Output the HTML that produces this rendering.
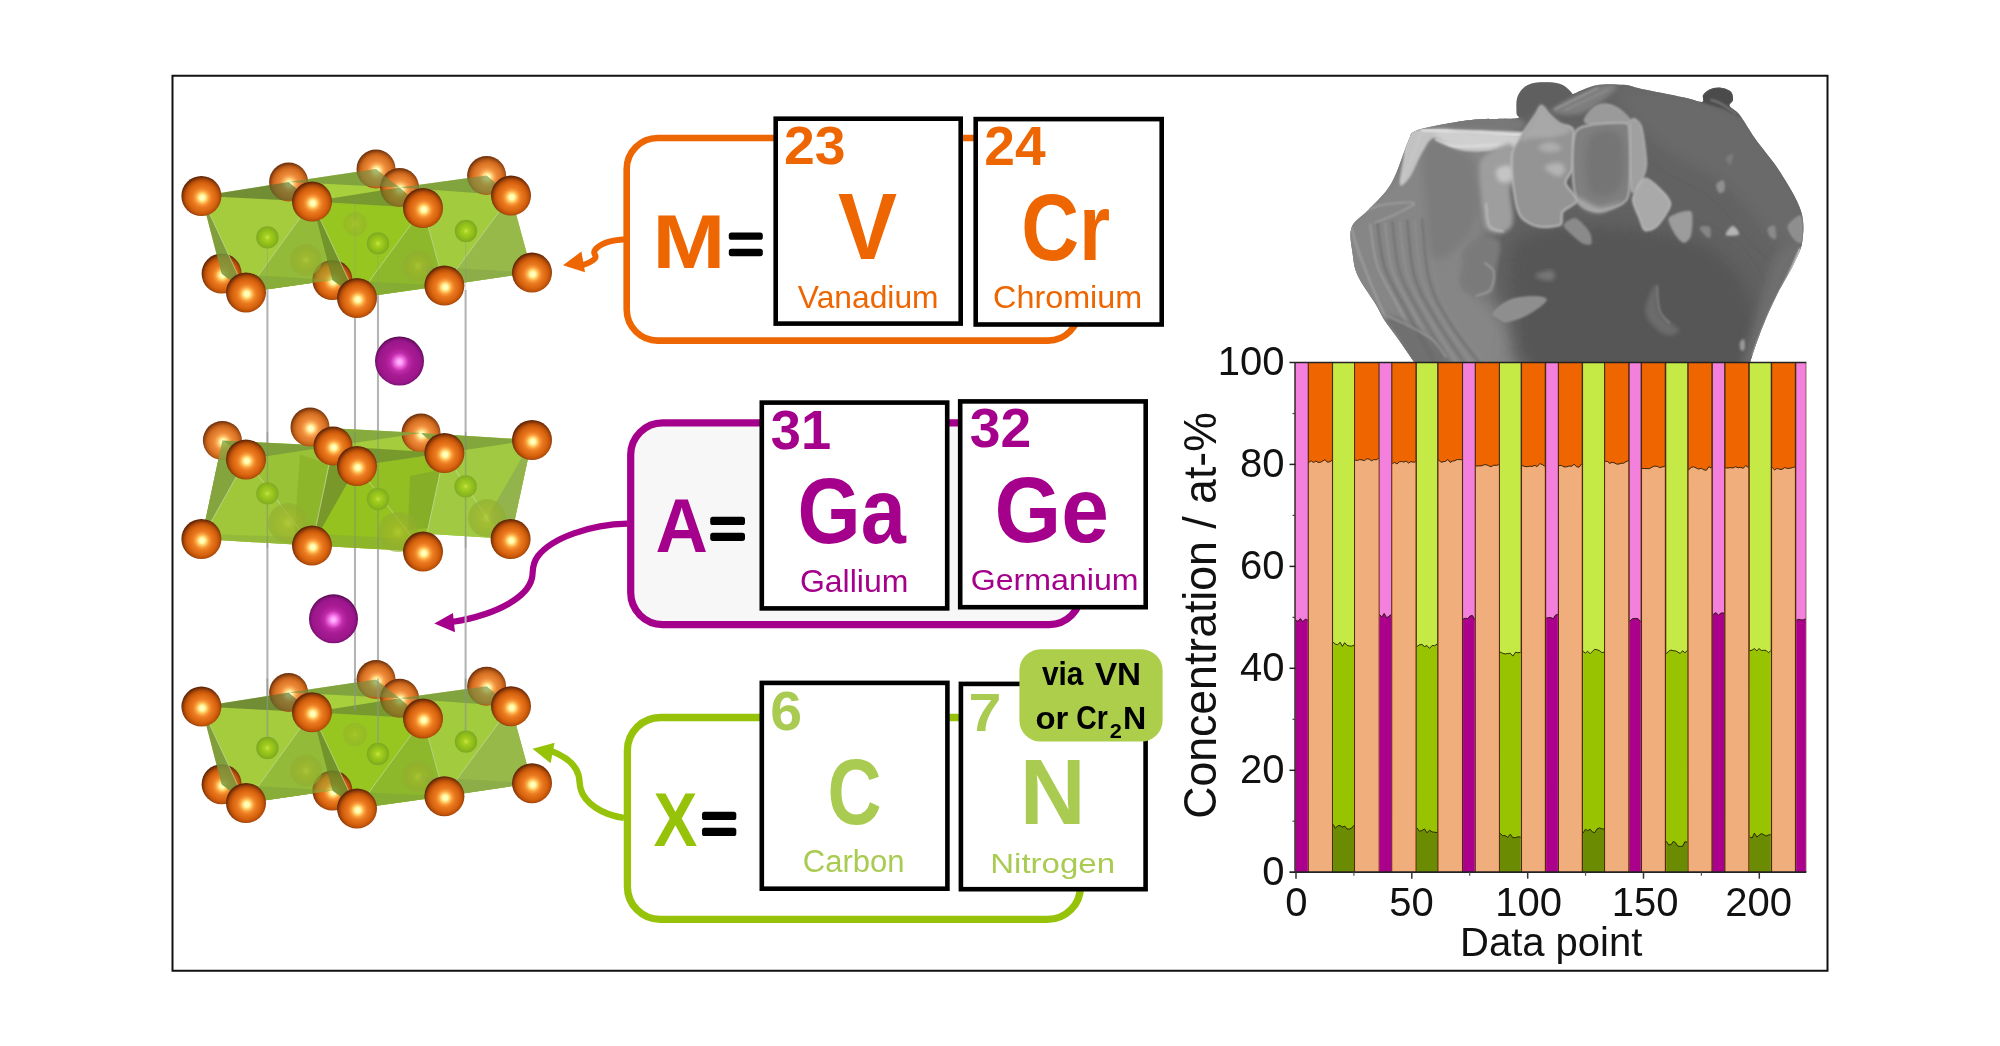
<!DOCTYPE html>
<html><head><meta charset="utf-8"><title>TOC graphic</title>
<style>
html,body{margin:0;padding:0;background:#fff;}
body{width:2000px;height:1046px;overflow:hidden;font-family:"Liberation Sans",sans-serif;}
svg{display:block;position:absolute;left:0;top:0;filter:blur(0.55px);}
svg text{font-family:"Liberation Sans",sans-serif;}
</style></head><body>
<svg width="2000" height="1046" viewBox="0 0 2000 1046">
<defs>
<radialGradient id="gO" cx="52%" cy="54%" r="52%">
<stop offset="0" stop-color="#FFFFC8"/><stop offset="0.12" stop-color="#FFFCB0"/><stop offset="0.22" stop-color="#FFD068"/><stop offset="0.33" stop-color="#F99B3A"/>
<stop offset="0.46" stop-color="#EA7A20"/><stop offset="0.68" stop-color="#D9640F"/><stop offset="0.82" stop-color="#BE5209"/><stop offset="0.93" stop-color="#8C3A08"/><stop offset="1" stop-color="#642705"/>
</radialGradient>
<radialGradient id="gOb" cx="52%" cy="54%" r="52%">
<stop offset="0" stop-color="#FFFFD2"/><stop offset="0.12" stop-color="#FFFCB8"/><stop offset="0.22" stop-color="#FFD67C"/><stop offset="0.33" stop-color="#F9A854"/>
<stop offset="0.46" stop-color="#EC8A3A"/><stop offset="0.68" stop-color="#DC7526"/><stop offset="0.82" stop-color="#C4621A"/><stop offset="0.93" stop-color="#984812"/><stop offset="1" stop-color="#74350E"/>
</radialGradient>
<radialGradient id="gP" cx="50%" cy="52%" r="51%">
<stop offset="0" stop-color="#FFC0FF"/><stop offset="0.10" stop-color="#FFA0F8"/><stop offset="0.22" stop-color="#EA62DA"/><stop offset="0.36" stop-color="#C02CAA"/>
<stop offset="0.55" stop-color="#A91B93"/><stop offset="0.84" stop-color="#9B168B"/><stop offset="0.94" stop-color="#7C1172"/><stop offset="1" stop-color="#5C0852"/>
</radialGradient>
<radialGradient id="gG" cx="50%" cy="50%" r="50%">
<stop offset="0" stop-color="#C9E64A"/><stop offset="0.25" stop-color="#A6D020"/><stop offset="0.7" stop-color="#8DBB18"/><stop offset="1" stop-color="#7DA824"/>
</radialGradient>
<radialGradient id="gOl" cx="50%" cy="50%" r="50%">
<stop offset="0" stop-color="#B9CE3A"/><stop offset="0.3" stop-color="#A3B62A"/><stop offset="0.8" stop-color="#93AD2C"/><stop offset="1" stop-color="#8FAF34"/>
</radialGradient>
<filter id="b1" x="-20%" y="-20%" width="140%" height="140%"><feGaussianBlur stdDeviation="1"/></filter>
<filter id="b2" x="-20%" y="-20%" width="140%" height="140%"><feGaussianBlur stdDeviation="2.2"/></filter>
<filter id="b4" x="-30%" y="-30%" width="160%" height="160%"><feGaussianBlur stdDeviation="4.5"/></filter>
<filter id="b8" x="-30%" y="-30%" width="160%" height="160%"><feGaussianBlur stdDeviation="9"/></filter>
<filter id="soft" x="-5%" y="-5%" width="110%" height="110%"><feGaussianBlur stdDeviation="0.6"/></filter>
</defs>
<rect x="0" y="0" width="2000" height="1046" fill="#ffffff"/>

<g id="sem">
<clipPath id="rockclip"><path d="M1516.5 113.0 C1516.7 109.3 1515.5 100.7 1517.9 95.8 C1520.3 90.9 1523.9 85.8 1530.8 83.8 C1537.7 81.8 1552.3 81.9 1559.5 83.8 C1566.7 85.7 1571.7 93.4 1573.8 95.2 C1575.9 97.1 1568.4 96.3 1572.1 94.6 C1575.8 92.9 1587.6 86.8 1596.2 85.2 C1604.8 83.5 1616.2 84.2 1623.8 84.8 C1631.3 85.4 1631.7 86.8 1641.6 88.9 C1651.5 90.9 1673.1 95.0 1683.1 97.2 C1693.2 99.3 1698.6 102.2 1702.0 101.9 C1705.3 101.5 1701.8 97.0 1703.1 95.0 C1704.3 92.9 1706.7 90.7 1709.4 89.4 C1712.2 88.2 1716.1 87.1 1719.7 87.5 C1723.3 87.8 1728.6 89.5 1730.8 91.6 C1733.0 93.7 1733.2 97.5 1733.0 99.9 C1732.8 102.3 1728.5 103.5 1729.7 106.0 C1730.8 108.6 1735.7 109.7 1739.9 115.2 C1744.2 120.6 1748.5 129.3 1755.2 138.7 C1761.9 148.2 1772.5 160.0 1780.1 172.0 C1787.7 184.0 1797.2 199.2 1800.9 210.8 C1804.6 222.3 1803.4 232.5 1802.3 241.3 C1801.1 250.0 1798.1 254.6 1794.0 263.4 C1789.8 272.2 1782.4 283.7 1777.3 293.9 C1772.3 304.1 1767.6 314.2 1763.5 324.4 C1759.3 334.5 1755.2 346.5 1752.4 354.9 C1749.6 363.2 1748.5 367.8 1746.9 374.3 C1745.2 380.7 1758.8 389.4 1742.7 393.6 C1726.6 397.9 1690.4 398.9 1650.0 400.0 C1609.6 401.1 1535.2 400.4 1500.0 400.0 C1464.8 399.6 1451.6 401.2 1439.1 397.6 C1426.5 393.9 1429.0 384.0 1424.9 378.1 C1420.8 372.2 1418.7 368.7 1414.3 362.2 C1409.9 355.7 1403.4 346.3 1398.4 339.2 C1393.4 332.1 1388.1 325.6 1384.2 319.7 C1380.4 313.9 1379.8 311.2 1375.4 303.8 C1371.0 296.5 1361.5 283.8 1357.7 275.5 C1353.9 267.3 1353.8 262.3 1352.7 254.3 C1351.7 246.3 1348.9 235.1 1351.5 227.8 C1354.1 220.4 1361.7 217.4 1368.3 210.1 C1374.9 202.7 1384.7 194.9 1391.3 183.5 C1397.9 172.1 1403.9 150.5 1408.0 141.7 C1412.2 132.9 1409.0 133.9 1416.1 130.8 C1423.1 127.7 1440.0 125.0 1450.5 123.1 C1461.0 121.2 1468.2 120.2 1479.2 119.3 C1490.2 118.5 1510.2 119.2 1516.5 118.2 C1522.7 117.1 1516.2 116.8 1516.5 113.0Z"/></clipPath>
<clipPath id="semtop"><rect x="1300" y="70" width="520" height="292.6"/></clipPath>
<g clip-path="url(#semtop)"><g filter="url(#soft)"><path d="M1516.5 113.0 C1516.7 109.3 1515.5 100.7 1517.9 95.8 C1520.3 90.9 1523.9 85.8 1530.8 83.8 C1537.7 81.8 1552.3 81.9 1559.5 83.8 C1566.7 85.7 1571.7 93.4 1573.8 95.2 C1575.9 97.1 1568.4 96.3 1572.1 94.6 C1575.8 92.9 1587.6 86.8 1596.2 85.2 C1604.8 83.5 1616.2 84.2 1623.8 84.8 C1631.3 85.4 1631.7 86.8 1641.6 88.9 C1651.5 90.9 1673.1 95.0 1683.1 97.2 C1693.2 99.3 1698.6 102.2 1702.0 101.9 C1705.3 101.5 1701.8 97.0 1703.1 95.0 C1704.3 92.9 1706.7 90.7 1709.4 89.4 C1712.2 88.2 1716.1 87.1 1719.7 87.5 C1723.3 87.8 1728.6 89.5 1730.8 91.6 C1733.0 93.7 1733.2 97.5 1733.0 99.9 C1732.8 102.3 1728.5 103.5 1729.7 106.0 C1730.8 108.6 1735.7 109.7 1739.9 115.2 C1744.2 120.6 1748.5 129.3 1755.2 138.7 C1761.9 148.2 1772.5 160.0 1780.1 172.0 C1787.7 184.0 1797.2 199.2 1800.9 210.8 C1804.6 222.3 1803.4 232.5 1802.3 241.3 C1801.1 250.0 1798.1 254.6 1794.0 263.4 C1789.8 272.2 1782.4 283.7 1777.3 293.9 C1772.3 304.1 1767.6 314.2 1763.5 324.4 C1759.3 334.5 1755.2 346.5 1752.4 354.9 C1749.6 363.2 1748.5 367.8 1746.9 374.3 C1745.2 380.7 1758.8 389.4 1742.7 393.6 C1726.6 397.9 1690.4 398.9 1650.0 400.0 C1609.6 401.1 1535.2 400.4 1500.0 400.0 C1464.8 399.6 1451.6 401.2 1439.1 397.6 C1426.5 393.9 1429.0 384.0 1424.9 378.1 C1420.8 372.2 1418.7 368.7 1414.3 362.2 C1409.9 355.7 1403.4 346.3 1398.4 339.2 C1393.4 332.1 1388.1 325.6 1384.2 319.7 C1380.4 313.9 1379.8 311.2 1375.4 303.8 C1371.0 296.5 1361.5 283.8 1357.7 275.5 C1353.9 267.3 1353.8 262.3 1352.7 254.3 C1351.7 246.3 1348.9 235.1 1351.5 227.8 C1354.1 220.4 1361.7 217.4 1368.3 210.1 C1374.9 202.7 1384.7 194.9 1391.3 183.5 C1397.9 172.1 1403.9 150.5 1408.0 141.7 C1412.2 132.9 1409.0 133.9 1416.1 130.8 C1423.1 127.7 1440.0 125.0 1450.5 123.1 C1461.0 121.2 1468.2 120.2 1479.2 119.3 C1490.2 118.5 1510.2 119.2 1516.5 118.2 C1522.7 117.1 1516.2 116.8 1516.5 113.0Z" fill="#626262"/>
<g clip-path="url(#rockclip)">
<path d="M1335.7 230.6 C1346.3 208.6 1389.8 174.2 1404.6 156.1 C1419.4 137.9 1408.4 128.3 1424.7 121.6 C1440.9 114.9 1487.3 110.2 1502.1 115.9 C1516.9 121.6 1516.5 143.1 1513.6 156.1 C1510.7 169.0 1488.7 180.9 1484.9 193.4 C1481.1 205.8 1493.0 217.7 1490.6 230.6 C1488.3 243.6 1468.6 256.9 1470.6 270.8 C1472.5 284.7 1492.1 296.6 1502.1 313.8 C1512.2 331.0 1547.5 364.0 1530.8 374.1 C1514.1 384.1 1433.3 388.4 1401.7 374.1 C1370.2 359.7 1352.5 311.9 1341.5 288.0 C1330.5 264.1 1325.2 252.6 1335.7 230.6Z" fill="#868686" filter="url(#b8)"/>
<path d="M1513.6 242.1 C1526.0 227.3 1556.6 224.9 1588.2 224.9 C1619.7 224.9 1675.7 229.7 1702.9 242.1 C1730.2 254.5 1745.0 277.5 1751.7 299.5 C1758.4 321.5 1778.9 361.6 1743.1 374.1 C1707.2 386.5 1574.8 384.1 1536.5 374.1 C1498.3 364.0 1517.4 335.8 1513.6 313.8 C1509.8 291.8 1501.2 256.9 1513.6 242.1Z" fill="#565656" filter="url(#b8)"/>
<path d="M1616.9 87.2 C1629.8 81.5 1705.8 90.6 1737.3 110.2 C1768.9 129.8 1794.7 181.9 1806.2 204.8 C1817.7 227.8 1811.0 241.6 1806.2 247.9 C1801.4 254.1 1790.9 252.6 1777.5 242.1 C1764.1 231.6 1745.5 201.0 1725.9 184.7 C1706.3 168.5 1678.1 160.8 1659.9 144.6 C1641.7 128.3 1604.0 92.9 1616.9 87.2Z" fill="#6b6b6b" filter="url(#b8)"/>
<path d="M1777.5 253.6 C1785.2 243.1 1802.4 236.4 1806.2 242.1 C1810.0 247.9 1808.1 267.0 1800.5 288.0 C1792.8 309.1 1769.9 354.9 1760.3 368.3 C1750.7 381.7 1743.1 378.9 1743.1 368.3 C1743.1 357.8 1754.6 324.4 1760.3 305.2 C1766.0 286.1 1769.9 264.1 1777.5 253.6Z" fill="#6e6e6e" filter="url(#b4)"/>
<path d="M1518.8 117.0 C1516.2 114.6 1518.5 100.7 1520.5 95.5 C1522.5 90.3 1526.5 88.2 1530.8 86.0 C1535.1 83.9 1540.8 82.4 1546.3 82.6 C1551.7 82.7 1559.1 84.8 1563.5 86.9 C1568.0 89.0 1575.0 91.6 1573.0 95.1 C1571.0 98.7 1557.6 105.9 1551.5 108.4 C1545.3 110.9 1541.4 108.7 1536.0 110.1 C1530.5 111.6 1521.3 119.4 1518.8 117.0Z" fill="#5e5e5e" filter="url(#b2)"/>
<path d="M1551.5 110.1 C1553.8 105.8 1585.3 90.3 1596.2 86.5 C1607.1 82.8 1619.2 83.4 1616.9 87.7 C1614.6 92.1 1593.3 109.0 1582.4 112.7 C1571.5 116.4 1549.2 114.5 1551.5 110.1Z" fill="#7e7e7e" filter="url(#b2)"/>
<path d="M1554.9 109.3 C1562.1 105.7 1590.8 91.3 1597.9 87.7" fill="none" stroke="#a8a8a8" stroke-width="1.2" stroke-linecap="round" opacity="1" filter="url(#b1)"/>
<path d="M1565.2 110.1 C1572.4 106.7 1601.1 92.9 1608.3 89.5" fill="none" stroke="#9a9a9a" stroke-width="1.0" stroke-linecap="round" opacity="1" filter="url(#b1)"/>
<path d="M1702.0 101.9 C1698.8 99.7 1701.8 97.0 1703.1 95.0 C1704.3 92.9 1706.7 90.7 1709.4 89.4 C1712.2 88.2 1716.1 87.1 1719.7 87.5 C1723.3 87.8 1728.6 89.5 1730.8 91.6 C1733.0 93.7 1733.2 97.5 1733.0 99.9 C1732.8 102.3 1728.5 103.3 1729.7 106.0 C1730.8 108.8 1741.2 116.2 1739.9 116.6 C1738.6 116.9 1728.2 110.7 1721.9 108.3 C1715.6 105.8 1705.1 104.1 1702.0 101.9Z" fill="#4c4c4c" filter="url(#b1)"/>
<path d="M1710.8 99.9 C1712.7 100.6 1717.8 101.8 1721.9 104.1 C1726.1 106.4 1733.5 112.2 1735.8 113.8" fill="none" stroke="#8a8a8a" stroke-width="1.5" stroke-linecap="round" opacity="1" filter="url(#b1)"/>
<path d="M1370.1 224.2 C1371.3 231.0 1372.7 251.6 1377.1 264.9 C1381.6 278.2 1388.1 287.2 1396.6 303.8 C1405.2 320.5 1423.1 354.7 1428.4 364.9" fill="none" stroke="#a6a6a6" stroke-width="1.6" stroke-linecap="round" opacity="0.85" filter="url(#b1)"/>
<path d="M1377.5 223.5 C1378.7 230.8 1380.2 253.2 1384.6 267.0 C1389.0 280.8 1395.5 290.0 1404.0 306.3 C1412.6 322.6 1430.6 355.1 1435.9 364.9" fill="none" stroke="#6a6a6a" stroke-width="2" stroke-linecap="round" opacity="0.85" filter="url(#b1)"/>
<path d="M1384.9 222.8 C1386.1 230.5 1387.6 254.8 1392.0 269.2 C1396.4 283.5 1402.9 292.8 1411.5 308.8 C1420.0 324.7 1438.0 355.5 1443.3 364.9" fill="none" stroke="#9e9e9e" stroke-width="1.4" stroke-linecap="round" opacity="0.85" filter="url(#b1)"/>
<path d="M1392.4 222.1 C1393.5 230.3 1395.0 256.4 1399.4 271.3 C1403.9 286.1 1410.3 295.7 1418.9 311.3 C1427.4 326.9 1445.4 355.9 1450.7 364.9" fill="none" stroke="#6e6e6e" stroke-width="2" stroke-linecap="round" opacity="0.85" filter="url(#b1)"/>
<path d="M1399.8 221.4 C1401.0 230.1 1402.4 258.0 1406.9 273.4 C1411.3 288.8 1417.8 298.5 1426.3 313.7 C1434.9 329.0 1452.9 356.3 1458.2 364.9" fill="none" stroke="#989898" stroke-width="1.4" stroke-linecap="round" opacity="0.85" filter="url(#b1)"/>
<path d="M1407.2 220.7 C1408.4 229.8 1409.9 259.6 1414.3 275.5 C1418.7 291.4 1425.2 301.3 1433.8 316.2 C1442.3 331.1 1460.3 356.7 1465.6 364.9" fill="none" stroke="#6c6c6c" stroke-width="2" stroke-linecap="round" opacity="0.85" filter="url(#b1)"/>
<path d="M1414.7 220.0 C1415.8 229.6 1417.3 261.2 1421.7 277.6 C1426.1 294.1 1432.6 304.2 1441.2 318.7 C1449.7 333.2 1467.7 357.2 1473.0 364.9" fill="none" stroke="#949494" stroke-width="1.3" stroke-linecap="round" opacity="0.85" filter="url(#b1)"/>
<path d="M1422.1 219.3 C1423.3 229.4 1424.7 262.8 1429.2 279.8 C1433.6 296.8 1440.1 307.0 1448.6 321.2 C1457.2 335.3 1475.1 357.6 1480.5 364.9" fill="none" stroke="#6a6a6a" stroke-width="1.8" stroke-linecap="round" opacity="0.85" filter="url(#b1)"/>
<path d="M1429.5 218.6 C1430.7 229.1 1432.2 264.4 1436.6 281.9 C1441.0 299.4 1447.5 309.8 1456.0 323.6 C1464.6 337.5 1482.6 358.0 1487.9 364.9" fill="none" stroke="#8e8e8e" stroke-width="1.2" stroke-linecap="round" opacity="0.85" filter="url(#b1)"/>
<path d="M1351.5 227.8 C1352.8 232.2 1354.0 239.9 1359.5 254.3 C1364.9 268.7 1377.7 300.3 1384.2 314.4 C1390.7 328.6 1396.0 335.1 1398.4 339.2" fill="none" stroke="#a0a0a0" stroke-width="2.2" stroke-linecap="round" opacity="0.9" filter="url(#b1)"/>
<path d="M1368.3 210.1 C1370.7 209.2 1374.8 205.9 1382.5 204.8 C1390.1 203.6 1412.5 201.2 1414.3 203.0 C1416.1 204.8 1399.6 212.1 1393.1 215.4 C1386.6 218.6 1378.3 221.3 1375.4 222.5" fill="none" stroke="#a2a2a2" stroke-width="2" stroke-linecap="round" opacity="0.8" filter="url(#b1)"/>
<path d="M1384.2 319.7 C1384.2 316.2 1390.4 314.7 1398.4 318.0 C1406.3 321.2 1424.0 331.4 1432.0 339.2 C1439.9 347.0 1448.8 360.6 1446.1 364.9 C1443.5 369.1 1424.0 369.1 1416.1 364.9 C1408.1 360.6 1403.7 346.7 1398.4 339.2 C1393.1 331.7 1384.2 323.3 1384.2 319.7Z" fill="#6a6a6a" filter="url(#b2)" opacity="0.8"/>
<path d="M1387.8 316.2 C1391.6 318.0 1403.4 323.0 1410.8 326.8 C1418.1 330.7 1426.1 334.2 1432.0 339.2 C1437.9 344.2 1443.8 353.9 1446.1 356.9" fill="none" stroke="#a0a0a0" stroke-width="1.6" stroke-linecap="round" opacity="0.9" filter="url(#b1)"/>
<path d="M1434.4 136.8 C1439.6 136.2 1447.0 145.4 1453.4 148.8 C1459.7 152.3 1468.3 148.8 1472.3 157.5 C1476.3 166.1 1478.0 187.6 1477.5 200.5 C1476.9 213.4 1476.0 225.2 1468.8 234.9 C1461.7 244.7 1441.6 264.7 1434.4 259.0 C1427.3 253.3 1427.8 218.3 1425.8 200.5 C1423.8 182.7 1420.9 162.9 1422.4 152.3 C1423.8 141.7 1429.3 137.4 1434.4 136.8Z" fill="#7b7b7b" filter="url(#b4)"/>
<path d="M1406.9 135.1 C1410.0 130.3 1410.6 129.9 1422.4 129.1 C1434.1 128.3 1460.5 129.7 1477.5 130.3 C1494.4 130.8 1517.9 129.7 1523.9 132.5 C1529.9 135.3 1521.3 144.0 1513.6 147.1 C1505.9 150.3 1487.5 151.3 1477.5 151.4 C1467.4 151.6 1460.5 150.3 1453.4 148.0 C1446.2 145.7 1439.6 136.9 1434.4 137.7 C1429.3 138.4 1426.4 145.8 1422.4 152.3 C1418.4 158.7 1414.1 170.9 1410.3 176.4 C1406.6 181.8 1401.1 188.1 1400.0 185.0 C1398.9 181.8 1402.3 165.8 1403.4 157.5 C1404.6 149.1 1403.7 139.8 1406.9 135.1Z" fill="#c2c2c2" filter="url(#b1)"/>
<path d="M1434.4 131.6 C1438.2 129.3 1463.4 131.9 1477.5 132.5 C1491.5 133.1 1513.3 133.1 1518.8 135.4 C1524.2 137.7 1517.0 144.0 1510.2 146.3 C1503.3 148.5 1486.6 148.8 1477.5 148.8 C1468.3 148.8 1462.2 149.1 1455.1 146.3 C1447.9 143.4 1430.7 133.9 1434.4 131.6Z" fill="#cfcfcf" filter="url(#b2)"/>
<path d="M1422.4 130.3 C1431.6 130.5 1461.1 130.9 1477.5 131.6 C1493.8 132.4 1513.3 134.2 1520.5 134.7" fill="none" stroke="#e4e4e4" stroke-width="2.6" stroke-linecap="round" opacity="1" filter="url(#b1)"/>
<path d="M1436.1 139.4 C1439.6 140.5 1445.0 145.4 1456.8 146.3 C1468.6 147.1 1498.4 144.8 1506.7 144.5" fill="none" stroke="#dcdcdc" stroke-width="2.4" stroke-linecap="round" opacity="1" filter="url(#b1)"/>
<path d="M1420.7 133.4 C1419.2 137.4 1415.2 149.4 1412.0 157.5 C1408.9 165.5 1403.4 177.5 1401.7 181.5" fill="none" stroke="#c8c8c8" stroke-width="2.0" stroke-linecap="round" opacity="1" filter="url(#b1)"/>
<path d="M1449.9 120.4 C1454.5 118.7 1467.4 117.1 1479.2 117.0 C1490.9 116.9 1513.9 117.4 1520.5 119.6 C1527.1 121.7 1525.9 128.3 1518.8 129.9 C1511.6 131.5 1488.6 129.5 1477.5 129.1 C1466.3 128.6 1456.2 128.8 1451.6 127.3 C1447.0 125.9 1445.3 122.2 1449.9 120.4Z" fill="#787878" filter="url(#b2)"/>
<path d="M1480.9 160.9 C1483.6 155.2 1491.2 151.4 1496.4 148.8 C1501.5 146.3 1508.9 140.8 1511.9 145.4 C1514.9 150.0 1514.7 168.9 1514.5 176.4 C1514.2 183.8 1510.4 182.4 1510.2 190.2 C1509.9 197.9 1514.5 215.7 1512.7 222.9 C1511.0 230.0 1504.3 232.3 1499.8 233.2 C1495.4 234.0 1489.0 231.7 1486.1 228.0 C1483.1 224.3 1483.3 218.3 1482.3 210.8 C1481.3 203.4 1480.3 191.6 1480.0 183.3 C1479.8 175.0 1478.2 166.6 1480.9 160.9Z" fill="#9e9e9e" filter="url(#b2)"/>
<path d="M1496.4 169.5 C1498.1 166.9 1507.6 164.3 1510.2 166.1 C1512.7 167.8 1513.6 177.2 1511.9 179.8 C1510.2 182.4 1502.4 183.3 1499.8 181.5 C1497.2 179.8 1494.7 172.1 1496.4 169.5Z" fill="#c4c4c4" filter="url(#b2)"/>
<path d="M1486.1 203.9 C1486.6 207.7 1486.6 221.7 1489.5 226.3 C1492.4 230.9 1501.0 230.6 1503.3 231.5" fill="none" stroke="#c0c0c0" stroke-width="1.6" stroke-linecap="round" opacity="1" filter="url(#b1)"/>
<path d="M1511.9 154.0 C1512.8 146.9 1517.3 142.1 1520.5 136.8 C1523.7 131.5 1533.2 118.6 1536.0 114.4 C1538.8 110.3 1539.6 105.7 1541.5 105.8 C1543.3 105.9 1547.3 112.9 1549.7 115.3 C1552.2 117.7 1557.0 122.1 1560.1 123.9 C1563.2 125.7 1571.1 125.3 1573.0 129.1 C1574.9 132.8 1574.3 146.9 1574.2 152.3 C1574.1 157.7 1573.6 165.4 1572.5 169.5 C1571.3 173.6 1564.9 179.1 1565.6 183.3 C1566.3 187.4 1578.0 196.7 1577.6 200.5 C1577.2 204.3 1564.9 208.4 1562.7 211.7 C1560.4 214.9 1563.7 222.9 1560.4 224.9 C1557.1 226.9 1543.0 227.8 1537.7 226.6 C1532.4 225.5 1523.7 221.2 1520.5 216.3 C1517.3 211.5 1514.7 198.5 1513.6 190.2 C1512.4 181.8 1511.0 161.1 1511.9 154.0Z" fill="#949494" filter="url(#b1)" stroke="#c6c6c6" stroke-width="1.5" stroke-linejoin="round"/>
<path d="M1536.0 114.4 C1539.5 108.8 1539.2 105.7 1541.5 105.8 C1543.8 106.0 1546.6 112.3 1549.7 115.3 C1552.8 118.3 1556.3 121.5 1560.1 123.9 C1563.8 126.3 1573.0 127.8 1572.1 129.9 C1571.3 132.1 1561.8 135.4 1554.9 136.8 C1548.0 138.2 1536.5 138.1 1530.8 138.5 C1525.1 139.0 1519.6 143.4 1520.5 139.4 C1521.3 135.4 1532.5 120.0 1536.0 114.4Z" fill="#a8a8a8" filter="url(#b2)"/>
<path d="M1537.7 147.1 C1538.3 145.4 1547.4 141.7 1551.5 142.0 C1555.5 142.2 1562.4 147.1 1561.8 148.8 C1561.2 150.6 1552.0 152.6 1548.0 152.3 C1544.0 152.0 1537.1 148.8 1537.7 147.1Z" fill="#adadad" filter="url(#b2)"/>
<path d="M1544.6 167.8 C1544.6 165.5 1554.9 162.3 1558.3 162.6 C1561.8 162.9 1565.2 167.2 1565.2 169.5 C1565.2 171.8 1561.8 176.7 1558.3 176.4 C1554.9 176.1 1544.6 170.1 1544.6 167.8Z" fill="#b4b4b4" filter="url(#b2)"/>
<path d="M1585.0 122.2 C1582.7 119.4 1589.2 111.4 1592.8 108.4 C1596.4 105.4 1601.7 103.7 1606.5 104.1 C1611.4 104.5 1618.2 107.8 1622.0 111.0 C1625.9 114.1 1632.4 120.7 1629.8 123.0 C1627.2 125.4 1614.0 125.2 1606.5 125.1 C1599.1 125.0 1587.3 125.0 1585.0 122.2Z" fill="#9a9a9a" filter="url(#b1)" stroke="#b4b4b4" stroke-width="1.0" stroke-linejoin="round"/>
<path d="M1629.8 123.0 C1631.1 114.4 1638.7 119.8 1641.0 125.1 C1643.2 130.4 1646.4 155.1 1646.5 162.6 C1646.5 170.1 1643.4 177.9 1641.3 181.5 C1639.2 185.2 1632.5 198.0 1631.0 190.2 C1629.4 182.4 1628.4 131.7 1629.8 123.0Z" fill="#a0a0a0" filter="url(#b1)" stroke="#c4c4c4" stroke-width="1.0" stroke-linejoin="round"/>
<path d="M1575.6 131.6 C1577.8 127.3 1582.9 126.2 1589.3 125.1 C1595.8 123.9 1618.4 122.2 1623.8 123.0 C1629.1 123.9 1628.5 122.7 1629.3 131.6 C1630.0 140.6 1630.2 180.5 1629.3 190.2 C1628.3 199.8 1626.0 201.1 1622.0 203.9 C1618.1 206.7 1604.9 210.9 1599.7 211.2 C1594.4 211.4 1585.8 208.8 1582.4 206.0 C1579.0 203.2 1575.5 196.6 1574.2 190.2 C1572.9 183.7 1572.3 165.3 1572.5 157.5 C1572.6 149.7 1573.3 135.9 1575.6 131.6Z" fill="#808080" filter="url(#b1)" stroke="#bcbcbc" stroke-width="1.6" stroke-linejoin="round"/>
<path d="M1589.3 136.8 C1594.8 128.2 1614.9 127.3 1620.3 135.1 C1625.8 142.8 1624.9 172.9 1622.0 183.3 C1619.2 193.6 1608.8 196.5 1603.1 197.0 C1597.4 197.6 1589.9 196.8 1587.6 186.7 C1585.3 176.7 1583.9 145.4 1589.3 136.8Z" fill="#747474" filter="url(#b4)"/>
<path d="M1577.3 197.0 C1580.1 197.0 1592.2 206.6 1599.7 207.4 C1607.1 208.1 1621.7 200.5 1622.0 201.3 C1622.3 202.2 1608.0 211.5 1601.4 212.5 C1594.8 213.5 1586.5 209.9 1582.4 207.4 C1578.4 204.8 1574.4 197.0 1577.3 197.0Z" fill="#a8a8a8" filter="url(#b2)"/>
<path d="M1632.7 198.8 C1633.4 193.5 1641.0 180.0 1644.4 178.5 C1647.8 176.9 1654.7 183.7 1658.2 187.1 C1661.7 190.5 1670.8 198.6 1670.6 203.9 C1670.4 209.2 1660.3 223.2 1656.8 226.6 C1653.3 230.1 1646.7 231.3 1644.4 230.1 C1642.1 228.9 1640.8 221.9 1639.2 217.7 C1637.7 213.5 1632.0 204.0 1632.7 198.8Z" fill="#a9a9a9" filter="url(#b1)" stroke="#c8c8c8" stroke-width="1.2" stroke-linejoin="round"/>
<path d="M1668.8 217.7 C1670.9 214.5 1687.9 208.9 1690.9 211.2 C1693.9 213.4 1692.1 230.7 1691.2 234.9 C1690.3 239.1 1686.1 242.7 1684.0 242.7 C1681.9 242.7 1677.4 238.2 1675.4 234.9 C1673.4 231.6 1666.8 220.9 1668.8 217.7Z" fill="#9c9c9c" filter="url(#b1)"/>
<path d="M1563.5 224.9 C1564.0 222.7 1572.1 217.2 1575.6 218.0 C1579.0 218.9 1587.2 228.0 1589.3 231.5 C1591.4 234.9 1592.3 242.2 1591.4 243.9 C1590.5 245.5 1585.4 244.7 1582.8 243.5 C1580.2 242.3 1574.7 237.4 1572.1 234.9 C1569.5 232.4 1563.1 227.2 1563.5 224.9Z" fill="#8a8a8a" filter="url(#b1)"/>
<path d="M1716.4 184.4 C1717.1 182.4 1721.9 179.4 1723.3 180.3 C1724.7 181.2 1725.4 187.9 1724.7 190.0 C1724.0 192.1 1720.5 193.7 1719.1 192.8 C1717.8 191.8 1715.7 186.5 1716.4 184.4Z" fill="#909090" filter="url(#b1)"/>
<path d="M1726.1 232.9 C1726.9 231.3 1730.8 225.8 1733.0 226.0 C1735.2 226.2 1739.9 232.7 1739.1 234.3 C1738.3 235.9 1730.2 235.9 1728.0 235.7 C1725.8 235.5 1725.2 234.6 1726.1 232.9Z" fill="#b4b4b4" filter="url(#b1)"/>
<path d="M1699.8 227.4 C1700.4 225.9 1707.7 225.2 1709.4 226.8 C1711.2 228.5 1711.0 235.6 1710.3 237.1 C1709.6 238.6 1707.0 237.3 1705.3 235.7 C1703.5 234.1 1699.1 228.9 1699.8 227.4Z" fill="#858585" filter="url(#b1)"/>
<path d="M1767.6 228.8 C1768.3 226.9 1773.2 224.4 1774.6 226.0 C1775.9 227.6 1776.6 236.6 1775.9 238.5 C1775.3 240.3 1771.8 238.7 1770.4 237.1 C1769.0 235.5 1766.9 230.6 1767.6 228.8Z" fill="#8a8a8a" filter="url(#b1)"/>
<path d="M1788.4 226.0 C1789.3 223.1 1799.1 214.3 1800.9 216.3 C1802.7 218.3 1802.6 238.3 1801.7 241.3 C1800.8 244.2 1795.7 240.5 1794.0 238.5 C1792.2 236.4 1787.5 229.0 1788.4 226.0Z" fill="#8e8e8e" filter="url(#b1)" stroke="#a8a8a8" stroke-width="0.8" stroke-linejoin="round"/>
<path d="M1739.9 342.4 C1740.5 340.7 1743.3 338.5 1744.1 339.6 C1744.9 340.8 1745.2 347.6 1744.6 349.3 C1744.1 351.0 1741.5 351.0 1740.8 349.9 C1740.0 348.7 1739.4 344.1 1739.9 342.4Z" fill="#9a9a9a" filter="url(#b1)"/>
<path d="M1726.1 158.1 C1726.5 156.3 1732.3 152.8 1733.0 154.0 C1733.7 155.1 1731.4 164.4 1730.2 165.1 C1729.1 165.7 1725.6 160.0 1726.1 158.1Z" fill="#7c7c7c" filter="url(#b1)"/>
<path d="M1463.8 250.8 C1466.5 246.3 1473.9 239.9 1479.7 238.4 C1485.6 236.9 1496.6 236.3 1499.2 241.9 C1501.9 247.5 1496.8 263.4 1495.7 272.0 C1494.5 280.5 1495.7 289.1 1492.1 293.2 C1488.6 297.3 1479.7 298.2 1474.4 296.8 C1469.1 295.3 1462.1 289.7 1460.3 284.4 C1458.5 279.1 1463.2 270.5 1463.8 264.9 C1464.4 259.3 1461.2 255.2 1463.8 250.8Z" fill="#7a7a7a" filter="url(#b2)"/>
<path d="M1485.1 263.1 C1486.5 264.6 1493.0 267.6 1493.9 272.0 C1494.8 276.4 1493.3 285.7 1490.4 289.7 C1487.4 293.7 1478.6 294.8 1476.2 295.9" fill="none" stroke="#a0a0a0" stroke-width="1.6" stroke-linecap="round" opacity="1" filter="url(#b1)"/>
<path d="M1493.9 312.7 C1495.7 309.7 1503.3 302.9 1509.8 300.3 C1516.3 297.6 1526.8 296.8 1532.8 296.8 C1538.9 296.8 1547.0 297.3 1546.1 300.3 C1545.2 303.2 1534.1 310.9 1527.5 314.4 C1520.9 318.0 1511.0 320.9 1506.3 321.5 C1501.6 322.1 1501.3 319.5 1499.2 318.0 C1497.1 316.5 1492.1 315.6 1493.9 312.7Z" fill="#8e8e8e" filter="url(#b1)" stroke="#a4a4a4" stroke-width="0.9" stroke-linejoin="round"/>
<path d="M1534.6 275.5 C1534.9 273.8 1547.1 270.1 1550.5 270.2 C1553.9 270.4 1555.2 274.6 1554.9 276.4 C1554.6 278.2 1552.1 281.0 1548.7 280.8 C1545.3 280.7 1534.3 277.3 1534.6 275.5Z" fill="#767676" filter="url(#b2)"/>
<path d="M1655.4 285.6 C1657.7 285.6 1655.6 305.9 1659.6 313.3 C1663.5 320.7 1678.3 326.5 1679.0 329.9 C1679.7 333.4 1669.3 336.8 1663.7 334.1 C1658.2 331.3 1647.1 321.4 1645.7 313.3 C1644.3 305.2 1653.1 285.6 1655.4 285.6Z" fill="#6c6c6c" filter="url(#b2)"/>
<path d="M1656.8 285.6 C1657.3 289.7 1657.5 304.3 1659.6 310.5 C1661.7 316.8 1667.7 320.9 1669.3 323.0" fill="none" stroke="#8a8a8a" stroke-width="1.4" stroke-linecap="round" opacity="1" filter="url(#b1)"/>
<path d="M1800.6 249.6 C1798.8 253.7 1794.1 264.8 1789.5 274.5 C1784.9 284.2 1778.0 296.7 1772.9 307.8 C1767.8 318.8 1762.2 333.2 1759.0 341.0 C1755.9 348.9 1754.9 352.5 1754.1 354.9" fill="none" stroke="#f4f4f4" stroke-width="2.6" stroke-linecap="round" opacity="0.95" filter="url(#b1)"/>
</g>
</g></g></g>
<g id="chart">
<rect x="1294.6" y="362.5" width="511.70000000000005" height="509.70000000000005" fill="#4a2a10"/>
<rect x="1295.48" y="362.5" width="12.24" height="509.70000000000005" fill="#F380DD"/>
<polygon points="1295.5,620.3 1297.9,621.2 1300.4,618.6 1302.8,621.6 1305.3,619.2 1307.7,620.1 1307.72,872.2 1295.48,872.2" fill="#AB008B"/>
<rect x="1308.88" y="362.5" width="23.04" height="509.70000000000005" fill="#EF6600"/>
<polygon points="1308.9,462.4 1311.2,460.8 1313.5,462.5 1315.8,461.1 1318.1,462.4 1320.4,462.3 1322.7,461.1 1325.0,459.7 1327.3,462.2 1329.6,461.9 1331.9,460.4 1331.92,872.2 1308.88,872.2" fill="#F1AE7D"/>
<rect x="1333.08" y="362.5" width="20.94" height="509.70000000000005" fill="#C6EA45"/>
<polygon points="1333.1,642.3 1335.4,644.0 1337.7,644.8 1340.1,642.2 1342.4,646.4 1344.7,642.7 1347.0,645.3 1349.4,646.0 1351.7,646.1 1354.0,645.2 1354.02,872.2 1333.08,872.2" fill="#98C300"/>
<polygon points="1333.1,824.4 1335.4,828.3 1337.7,825.8 1340.1,825.5 1342.4,827.1 1344.7,826.0 1347.0,829.0 1349.4,829.0 1351.7,828.1 1354.0,825.2 1354.02,872.2 1333.08,872.2" fill="#6B8B02"/>
<rect x="1355.08" y="362.5" width="23.44" height="509.70000000000005" fill="#EF6600"/>
<polygon points="1355.1,460.1 1357.4,460.5 1359.8,459.5 1362.1,460.0 1364.5,460.6 1366.8,458.8 1369.1,459.1 1371.5,460.8 1373.8,459.6 1376.2,459.8 1378.5,458.5 1378.52,872.2 1355.08,872.2" fill="#F1AE7D"/>
<rect x="1379.58" y="362.5" width="11.64" height="509.70000000000005" fill="#F380DD"/>
<polygon points="1379.6,614.7 1381.9,616.9 1384.2,613.4 1386.6,617.8 1388.9,616.2 1391.2,614.5 1391.22,872.2 1379.58,872.2" fill="#AB008B"/>
<rect x="1392.38" y="362.5" width="23.04" height="509.70000000000005" fill="#EF6600"/>
<polygon points="1392.4,463.6 1394.7,462.4 1397.0,464.0 1399.3,461.8 1401.6,461.5 1403.9,462.1 1406.2,461.1 1408.5,463.1 1410.8,461.7 1413.1,462.1 1415.4,462.1 1415.42,872.2 1392.38,872.2" fill="#F1AE7D"/>
<rect x="1416.88" y="362.5" width="20.24" height="509.70000000000005" fill="#C6EA45"/>
<polygon points="1416.9,646.6 1419.4,644.8 1421.9,644.4 1424.5,646.5 1427.0,645.6 1429.5,648.4 1432.1,645.5 1434.6,645.7 1437.1,644.1 1437.12,872.2 1416.88,872.2" fill="#98C300"/>
<polygon points="1416.9,827.9 1419.4,831.2 1421.9,830.6 1424.5,828.9 1427.0,832.8 1429.5,830.1 1432.1,831.9 1434.6,832.2 1437.1,832.6 1437.12,872.2 1416.88,872.2" fill="#6B8B02"/>
<rect x="1438.58" y="362.5" width="23.34" height="509.70000000000005" fill="#EF6600"/>
<polygon points="1438.6,459.9 1440.9,462.2 1443.2,461.8 1445.6,461.3 1447.9,459.5 1450.2,462.4 1452.6,461.1 1454.9,460.7 1457.3,459.5 1459.6,459.7 1461.9,459.6 1461.92,872.2 1438.58,872.2" fill="#F1AE7D"/>
<rect x="1463.08" y="362.5" width="11.64" height="509.70000000000005" fill="#F380DD"/>
<polygon points="1463.1,619.0 1465.4,618.3 1467.7,618.6 1470.1,615.9 1472.4,615.5 1474.7,619.6 1474.72,872.2 1463.08,872.2" fill="#AB008B"/>
<rect x="1475.88" y="362.5" width="22.94" height="509.70000000000005" fill="#EF6600"/>
<polygon points="1475.9,466.1 1478.4,465.9 1481.0,465.9 1483.5,465.0 1486.1,464.6 1488.6,465.8 1491.2,466.7 1493.7,465.2 1496.3,465.4 1498.8,464.7 1498.82,872.2 1475.88,872.2" fill="#F1AE7D"/>
<rect x="1499.98" y="362.5" width="20.64" height="509.70000000000005" fill="#C6EA45"/>
<polygon points="1500.0,652.0 1502.6,653.2 1505.1,654.0 1507.7,653.5 1510.3,653.2 1512.9,656.1 1515.5,652.2 1518.0,652.8 1520.6,652.3 1520.62,872.2 1499.98,872.2" fill="#98C300"/>
<polygon points="1500.0,833.2 1502.6,835.7 1505.1,835.6 1507.7,837.4 1510.3,834.2 1512.9,837.7 1515.5,837.6 1518.0,836.8 1520.6,837.1 1520.62,872.2 1499.98,872.2" fill="#6B8B02"/>
<rect x="1522.08" y="362.5" width="22.64" height="509.70000000000005" fill="#EF6600"/>
<polygon points="1522.1,465.5 1524.6,466.5 1527.1,466.7 1529.6,466.2 1532.1,466.4 1534.7,465.4 1537.2,466.6 1539.7,463.6 1542.2,464.5 1544.7,466.2 1544.72,872.2 1522.08,872.2" fill="#F1AE7D"/>
<rect x="1546.18" y="362.5" width="11.64" height="509.70000000000005" fill="#F380DD"/>
<polygon points="1546.2,618.1 1548.5,617.6 1550.8,617.5 1553.2,618.8 1555.5,615.1 1557.8,614.3 1557.82,872.2 1546.18,872.2" fill="#AB008B"/>
<rect x="1558.98" y="362.5" width="22.64" height="509.70000000000005" fill="#EF6600"/>
<polygon points="1559.0,465.6 1561.5,465.5 1564.0,466.9 1566.5,466.9 1569.0,466.0 1571.6,466.3 1574.1,464.3 1576.6,466.7 1579.1,467.2 1581.6,463.9 1581.62,872.2 1558.98,872.2" fill="#F1AE7D"/>
<rect x="1583.08" y="362.5" width="20.94" height="509.70000000000005" fill="#C6EA45"/>
<polygon points="1583.1,651.4 1585.4,653.1 1587.7,651.3 1590.1,653.7 1592.4,651.4 1594.7,649.3 1597.0,649.8 1599.4,650.6 1601.7,652.6 1604.0,652.1 1604.02,872.2 1583.08,872.2" fill="#98C300"/>
<polygon points="1583.1,833.0 1585.4,829.3 1587.7,830.7 1590.1,829.2 1592.4,832.0 1594.7,832.6 1597.0,829.0 1599.4,827.9 1601.7,828.8 1604.0,829.0 1604.02,872.2 1583.08,872.2" fill="#6B8B02"/>
<rect x="1605.18" y="362.5" width="23.04" height="509.70000000000005" fill="#EF6600"/>
<polygon points="1605.2,461.3 1607.5,461.5 1609.8,463.4 1612.1,462.3 1614.4,462.9 1616.7,464.1 1619.0,464.1 1621.3,463.2 1623.6,463.3 1625.9,461.7 1628.2,460.8 1628.22,872.2 1605.18,872.2" fill="#F1AE7D"/>
<rect x="1629.68" y="362.5" width="10.94" height="509.70000000000005" fill="#F380DD"/>
<polygon points="1629.7,621.2 1632.4,618.7 1635.2,618.4 1637.9,618.6 1640.6,621.6 1640.62,872.2 1629.68,872.2" fill="#AB008B"/>
<rect x="1642.08" y="362.5" width="22.64" height="509.70000000000005" fill="#EF6600"/>
<polygon points="1642.1,468.5 1644.6,468.5 1647.1,468.6 1649.6,468.6 1652.1,467.1 1654.7,466.1 1657.2,466.3 1659.7,467.6 1662.2,467.0 1664.7,466.4 1664.72,872.2 1642.08,872.2" fill="#F1AE7D"/>
<rect x="1666.28" y="362.5" width="20.94" height="509.70000000000005" fill="#C6EA45"/>
<polygon points="1666.3,653.9 1668.6,651.3 1670.9,650.1 1673.3,650.7 1675.6,650.9 1677.9,652.1 1680.2,653.5 1682.6,650.7 1684.9,652.8 1687.2,650.6 1687.22,872.2 1666.28,872.2" fill="#98C300"/>
<polygon points="1666.3,841.3 1668.6,844.8 1670.9,844.8 1673.3,841.4 1675.6,842.8 1677.9,846.2 1680.2,846.4 1682.6,846.3 1684.9,841.7 1687.2,842.3 1687.22,872.2 1666.28,872.2" fill="#6B8B02"/>
<rect x="1688.68" y="362.5" width="22.64" height="509.70000000000005" fill="#EF6600"/>
<polygon points="1688.7,469.8 1691.2,467.4 1693.7,466.8 1696.2,468.0 1698.7,469.1 1701.3,468.3 1703.8,469.8 1706.3,470.3 1708.8,466.8 1711.3,468.0 1711.32,872.2 1688.68,872.2" fill="#F1AE7D"/>
<rect x="1712.88" y="362.5" width="11.24" height="509.70000000000005" fill="#F380DD"/>
<polygon points="1712.9,614.7 1715.7,612.6 1718.5,615.1 1721.3,612.9 1724.1,613.1 1724.12,872.2 1712.88,872.2" fill="#AB008B"/>
<rect x="1725.58" y="362.5" width="22.64" height="509.70000000000005" fill="#EF6600"/>
<polygon points="1725.6,468.0 1728.1,467.9 1730.6,467.7 1733.1,467.9 1735.6,466.7 1738.2,467.8 1740.7,467.3 1743.2,468.3 1745.7,465.5 1748.2,467.5 1748.22,872.2 1725.58,872.2" fill="#F1AE7D"/>
<rect x="1749.78" y="362.5" width="20.94" height="509.70000000000005" fill="#C6EA45"/>
<polygon points="1749.8,650.7 1752.1,650.1 1754.4,648.6 1756.8,650.8 1759.1,648.6 1761.4,650.5 1763.7,650.3 1766.1,650.4 1768.4,652.7 1770.7,650.8 1770.72,872.2 1749.78,872.2" fill="#98C300"/>
<polygon points="1749.8,836.9 1752.1,838.0 1754.4,833.2 1756.8,837.0 1759.1,835.2 1761.4,833.6 1763.7,834.6 1766.1,836.1 1768.4,834.9 1770.7,834.7 1770.72,872.2 1749.78,872.2" fill="#6B8B02"/>
<rect x="1772.18" y="362.5" width="22.64" height="509.70000000000005" fill="#EF6600"/>
<polygon points="1772.2,467.5 1774.7,469.9 1777.2,468.3 1779.7,469.4 1782.2,469.3 1784.8,467.5 1787.3,468.5 1789.8,468.3 1792.3,467.6 1794.8,467.0 1794.82,872.2 1772.18,872.2" fill="#F1AE7D"/>
<rect x="1796.28" y="362.5" width="9.44" height="509.70000000000005" fill="#F380DD"/>
<polygon points="1796.3,620.2 1798.6,619.3 1801.0,619.9 1803.4,619.8 1805.7,618.9 1805.72,872.2 1796.28,872.2" fill="#AB008B"/>
<polyline points="1295.5,620.3 1297.9,621.2 1300.4,618.6 1302.8,621.6 1305.3,619.2 1307.7,620.1" fill="none" stroke="#1a1200" stroke-width="1" stroke-opacity="0.85"/>
<polyline points="1308.9,462.4 1311.2,460.8 1313.5,462.5 1315.8,461.1 1318.1,462.4 1320.4,462.3 1322.7,461.1 1325.0,459.7 1327.3,462.2 1329.6,461.9 1331.9,460.4" fill="none" stroke="#1a1200" stroke-width="1" stroke-opacity="0.85"/>
<polyline points="1333.1,642.3 1335.4,644.0 1337.7,644.8 1340.1,642.2 1342.4,646.4 1344.7,642.7 1347.0,645.3 1349.4,646.0 1351.7,646.1 1354.0,645.2" fill="none" stroke="#1a1200" stroke-width="1" stroke-opacity="0.85"/>
<polyline points="1333.1,824.4 1335.4,828.3 1337.7,825.8 1340.1,825.5 1342.4,827.1 1344.7,826.0 1347.0,829.0 1349.4,829.0 1351.7,828.1 1354.0,825.2" fill="none" stroke="#1a1200" stroke-width="1" stroke-opacity="0.85"/>
<polyline points="1355.1,460.1 1357.4,460.5 1359.8,459.5 1362.1,460.0 1364.5,460.6 1366.8,458.8 1369.1,459.1 1371.5,460.8 1373.8,459.6 1376.2,459.8 1378.5,458.5" fill="none" stroke="#1a1200" stroke-width="1" stroke-opacity="0.85"/>
<polyline points="1379.6,614.7 1381.9,616.9 1384.2,613.4 1386.6,617.8 1388.9,616.2 1391.2,614.5" fill="none" stroke="#1a1200" stroke-width="1" stroke-opacity="0.85"/>
<polyline points="1392.4,463.6 1394.7,462.4 1397.0,464.0 1399.3,461.8 1401.6,461.5 1403.9,462.1 1406.2,461.1 1408.5,463.1 1410.8,461.7 1413.1,462.1 1415.4,462.1" fill="none" stroke="#1a1200" stroke-width="1" stroke-opacity="0.85"/>
<polyline points="1416.9,646.6 1419.4,644.8 1421.9,644.4 1424.5,646.5 1427.0,645.6 1429.5,648.4 1432.1,645.5 1434.6,645.7 1437.1,644.1" fill="none" stroke="#1a1200" stroke-width="1" stroke-opacity="0.85"/>
<polyline points="1416.9,827.9 1419.4,831.2 1421.9,830.6 1424.5,828.9 1427.0,832.8 1429.5,830.1 1432.1,831.9 1434.6,832.2 1437.1,832.6" fill="none" stroke="#1a1200" stroke-width="1" stroke-opacity="0.85"/>
<polyline points="1438.6,459.9 1440.9,462.2 1443.2,461.8 1445.6,461.3 1447.9,459.5 1450.2,462.4 1452.6,461.1 1454.9,460.7 1457.3,459.5 1459.6,459.7 1461.9,459.6" fill="none" stroke="#1a1200" stroke-width="1" stroke-opacity="0.85"/>
<polyline points="1463.1,619.0 1465.4,618.3 1467.7,618.6 1470.1,615.9 1472.4,615.5 1474.7,619.6" fill="none" stroke="#1a1200" stroke-width="1" stroke-opacity="0.85"/>
<polyline points="1475.9,466.1 1478.4,465.9 1481.0,465.9 1483.5,465.0 1486.1,464.6 1488.6,465.8 1491.2,466.7 1493.7,465.2 1496.3,465.4 1498.8,464.7" fill="none" stroke="#1a1200" stroke-width="1" stroke-opacity="0.85"/>
<polyline points="1500.0,652.0 1502.6,653.2 1505.1,654.0 1507.7,653.5 1510.3,653.2 1512.9,656.1 1515.5,652.2 1518.0,652.8 1520.6,652.3" fill="none" stroke="#1a1200" stroke-width="1" stroke-opacity="0.85"/>
<polyline points="1500.0,833.2 1502.6,835.7 1505.1,835.6 1507.7,837.4 1510.3,834.2 1512.9,837.7 1515.5,837.6 1518.0,836.8 1520.6,837.1" fill="none" stroke="#1a1200" stroke-width="1" stroke-opacity="0.85"/>
<polyline points="1522.1,465.5 1524.6,466.5 1527.1,466.7 1529.6,466.2 1532.1,466.4 1534.7,465.4 1537.2,466.6 1539.7,463.6 1542.2,464.5 1544.7,466.2" fill="none" stroke="#1a1200" stroke-width="1" stroke-opacity="0.85"/>
<polyline points="1546.2,618.1 1548.5,617.6 1550.8,617.5 1553.2,618.8 1555.5,615.1 1557.8,614.3" fill="none" stroke="#1a1200" stroke-width="1" stroke-opacity="0.85"/>
<polyline points="1559.0,465.6 1561.5,465.5 1564.0,466.9 1566.5,466.9 1569.0,466.0 1571.6,466.3 1574.1,464.3 1576.6,466.7 1579.1,467.2 1581.6,463.9" fill="none" stroke="#1a1200" stroke-width="1" stroke-opacity="0.85"/>
<polyline points="1583.1,651.4 1585.4,653.1 1587.7,651.3 1590.1,653.7 1592.4,651.4 1594.7,649.3 1597.0,649.8 1599.4,650.6 1601.7,652.6 1604.0,652.1" fill="none" stroke="#1a1200" stroke-width="1" stroke-opacity="0.85"/>
<polyline points="1583.1,833.0 1585.4,829.3 1587.7,830.7 1590.1,829.2 1592.4,832.0 1594.7,832.6 1597.0,829.0 1599.4,827.9 1601.7,828.8 1604.0,829.0" fill="none" stroke="#1a1200" stroke-width="1" stroke-opacity="0.85"/>
<polyline points="1605.2,461.3 1607.5,461.5 1609.8,463.4 1612.1,462.3 1614.4,462.9 1616.7,464.1 1619.0,464.1 1621.3,463.2 1623.6,463.3 1625.9,461.7 1628.2,460.8" fill="none" stroke="#1a1200" stroke-width="1" stroke-opacity="0.85"/>
<polyline points="1629.7,621.2 1632.4,618.7 1635.2,618.4 1637.9,618.6 1640.6,621.6" fill="none" stroke="#1a1200" stroke-width="1" stroke-opacity="0.85"/>
<polyline points="1642.1,468.5 1644.6,468.5 1647.1,468.6 1649.6,468.6 1652.1,467.1 1654.7,466.1 1657.2,466.3 1659.7,467.6 1662.2,467.0 1664.7,466.4" fill="none" stroke="#1a1200" stroke-width="1" stroke-opacity="0.85"/>
<polyline points="1666.3,653.9 1668.6,651.3 1670.9,650.1 1673.3,650.7 1675.6,650.9 1677.9,652.1 1680.2,653.5 1682.6,650.7 1684.9,652.8 1687.2,650.6" fill="none" stroke="#1a1200" stroke-width="1" stroke-opacity="0.85"/>
<polyline points="1666.3,841.3 1668.6,844.8 1670.9,844.8 1673.3,841.4 1675.6,842.8 1677.9,846.2 1680.2,846.4 1682.6,846.3 1684.9,841.7 1687.2,842.3" fill="none" stroke="#1a1200" stroke-width="1" stroke-opacity="0.85"/>
<polyline points="1688.7,469.8 1691.2,467.4 1693.7,466.8 1696.2,468.0 1698.7,469.1 1701.3,468.3 1703.8,469.8 1706.3,470.3 1708.8,466.8 1711.3,468.0" fill="none" stroke="#1a1200" stroke-width="1" stroke-opacity="0.85"/>
<polyline points="1712.9,614.7 1715.7,612.6 1718.5,615.1 1721.3,612.9 1724.1,613.1" fill="none" stroke="#1a1200" stroke-width="1" stroke-opacity="0.85"/>
<polyline points="1725.6,468.0 1728.1,467.9 1730.6,467.7 1733.1,467.9 1735.6,466.7 1738.2,467.8 1740.7,467.3 1743.2,468.3 1745.7,465.5 1748.2,467.5" fill="none" stroke="#1a1200" stroke-width="1" stroke-opacity="0.85"/>
<polyline points="1749.8,650.7 1752.1,650.1 1754.4,648.6 1756.8,650.8 1759.1,648.6 1761.4,650.5 1763.7,650.3 1766.1,650.4 1768.4,652.7 1770.7,650.8" fill="none" stroke="#1a1200" stroke-width="1" stroke-opacity="0.85"/>
<polyline points="1749.8,836.9 1752.1,838.0 1754.4,833.2 1756.8,837.0 1759.1,835.2 1761.4,833.6 1763.7,834.6 1766.1,836.1 1768.4,834.9 1770.7,834.7" fill="none" stroke="#1a1200" stroke-width="1" stroke-opacity="0.85"/>
<polyline points="1772.2,467.5 1774.7,469.9 1777.2,468.3 1779.7,469.4 1782.2,469.3 1784.8,467.5 1787.3,468.5 1789.8,468.3 1792.3,467.6 1794.8,467.0" fill="none" stroke="#1a1200" stroke-width="1" stroke-opacity="0.85"/>
<polyline points="1796.3,620.2 1798.6,619.3 1801.0,619.9 1803.4,619.8 1805.7,618.9" fill="none" stroke="#1a1200" stroke-width="1" stroke-opacity="0.85"/>
<line x1="1289.5" y1="362.5" x2="1806.3" y2="362.5" stroke="#222" stroke-width="1.6"/>
<line x1="1289.5" y1="872.2" x2="1806.3" y2="872.2" stroke="#222" stroke-width="1.8"/>
<line x1="1295" y1="362.5" x2="1295" y2="872.2" stroke="#333" stroke-width="1.2"/>
<line x1="1289.5" y1="464.4" x2="1295.5" y2="464.4" stroke="#222" stroke-width="1.5"/>
<line x1="1289.5" y1="566.4" x2="1295.5" y2="566.4" stroke="#222" stroke-width="1.5"/>
<line x1="1289.5" y1="668.3" x2="1295.5" y2="668.3" stroke="#222" stroke-width="1.5"/>
<line x1="1289.5" y1="770.3" x2="1295.5" y2="770.3" stroke="#222" stroke-width="1.5"/>
<line x1="1292.5" y1="413.5" x2="1295.5" y2="413.5" stroke="#444" stroke-width="1.2"/>
<line x1="1292.5" y1="515.4" x2="1295.5" y2="515.4" stroke="#444" stroke-width="1.2"/>
<line x1="1292.5" y1="617.4" x2="1295.5" y2="617.4" stroke="#444" stroke-width="1.2"/>
<line x1="1292.5" y1="719.3" x2="1295.5" y2="719.3" stroke="#444" stroke-width="1.2"/>
<line x1="1292.5" y1="821.2" x2="1295.5" y2="821.2" stroke="#444" stroke-width="1.2"/>
<line x1="1296.0" y1="872.2" x2="1296.0" y2="878.7" stroke="#333" stroke-width="1.5"/>
<line x1="1411.8" y1="872.2" x2="1411.8" y2="878.7" stroke="#333" stroke-width="1.5"/>
<line x1="1527.7" y1="872.2" x2="1527.7" y2="878.7" stroke="#333" stroke-width="1.5"/>
<line x1="1643.5" y1="872.2" x2="1643.5" y2="878.7" stroke="#333" stroke-width="1.5"/>
<line x1="1759.3" y1="872.2" x2="1759.3" y2="878.7" stroke="#333" stroke-width="1.5"/>
<line x1="1353.9" y1="872.2" x2="1353.9" y2="875.7" stroke="#555" stroke-width="1.2"/>
<line x1="1469.7" y1="872.2" x2="1469.7" y2="875.7" stroke="#555" stroke-width="1.2"/>
<line x1="1585.6" y1="872.2" x2="1585.6" y2="875.7" stroke="#555" stroke-width="1.2"/>
<line x1="1701.4" y1="872.2" x2="1701.4" y2="875.7" stroke="#555" stroke-width="1.2"/>
<text x="1284.6" y="374.9" font-size="40" text-anchor="end" fill="#111">100</text>
<text x="1284.6" y="476.8" font-size="40" text-anchor="end" fill="#111">80</text>
<text x="1284.6" y="578.8" font-size="40" text-anchor="end" fill="#111">60</text>
<text x="1284.6" y="680.7" font-size="40" text-anchor="end" fill="#111">40</text>
<text x="1284.6" y="782.7" font-size="40" text-anchor="end" fill="#111">20</text>
<text x="1284.6" y="884.6" font-size="40" text-anchor="end" fill="#111">0</text>
<text x="1296.3" y="915.7" font-size="40" text-anchor="middle" fill="#111">0</text>
<text x="1411.4" y="915.7" font-size="40" text-anchor="middle" fill="#111">50</text>
<text x="1528.6" y="915.7" font-size="40" text-anchor="middle" fill="#111">100</text>
<text x="1645.2" y="915.7" font-size="40" text-anchor="middle" fill="#111">150</text>
<text x="1758.7" y="915.7" font-size="40" text-anchor="middle" fill="#111">200</text>
<text x="1460" y="956.2" font-size="40" fill="#111">Data point</text>
<text transform="translate(1181.6 816.6) rotate(-90) matrix(0.4462 0 0 0.4694 -2.23 34.03)" font-size="100" font-weight="normal" fill="#111" >Concentration / at-%</text>
</g>
<g id="elements">
<rect x="626.7" y="138" width="452.29999999999995" height="202.60000000000002" rx="31" ry="31" fill="none" stroke="#EE6602" stroke-width="6.6"/>
<path d="M626 239.3 C612 240 600 243.5 595 250 C592 254 598 255.5 594.5 259 C591 262.5 588 263.5 581 265.5" fill="none" stroke="#EE6602" stroke-width="6" stroke-linecap="butt"/>
<polygon points="563,265.3 581.4,251.5 585,272.3" fill="#EE6602"/>
<rect x="775.7" y="118.7" width="185.0" height="204.9" fill="#fff" stroke="#000" stroke-width="4.6"/>
<rect x="975.7" y="119.1" width="186.0" height="205.4" fill="#fff" stroke="#000" stroke-width="4.6"/>
<text transform="matrix(0.8743 0 0 0.7680 652.50 267.60)" font-size="100" font-weight="bold" fill="#EE6602" >M</text>
<rect x="728.8" y="232.6" width="34" height="7.2" rx="2.6" fill="#000"/><rect x="728.8" y="248.8" width="34" height="7.4" rx="2.6" fill="#000"/>
<text transform="matrix(0.5538 0 0 0.5352 783.96 164.03)" font-size="100" font-weight="bold" fill="#EE6602" >23</text>
<text transform="matrix(0.8858 0 0 0.9367 838.04 259.30)" font-size="100" font-weight="bold" fill="#EE6602" >V</text>
<text transform="matrix(0.3178 0 0 0.3116 797.84 307.59)" font-size="100" font-weight="normal" fill="#EE6602" >Vanadium</text>
<text transform="matrix(0.5514 0 0 0.5520 984.37 165.20)" font-size="100" font-weight="bold" fill="#EE6602" >24</text>
<text transform="matrix(0.8000 0 0 0.9470 1021.20 259.85)" font-size="100" font-weight="bold" fill="#EE6602" >Cr</text>
<text transform="matrix(0.3235 0 0 0.3170 993.08 307.98)" font-size="100" font-weight="normal" fill="#EE6602" >Chromium</text>
<rect x="630.7" y="422.8" width="450.29999999999995" height="201.8" rx="32" ry="32" fill="#F7F7F7" stroke="#A5008B" stroke-width="7.2"/>
<path d="M627.5 523.7 C590 524.5 552 538 538 556 C531 565 533.5 572 532 578 C528 596 500 614 453 621.8" fill="none" stroke="#A5008B" stroke-width="6.2"/>
<polygon points="434.3,623.6 452.9,613 455,632.2" fill="#A5008B"/>
<rect x="761.8" y="402.6" width="185.4" height="205.8" fill="#fff" stroke="#000" stroke-width="4.6"/>
<rect x="960.2" y="401.4" width="185.5" height="205.8" fill="#fff" stroke="#000" stroke-width="4.6"/>
<text transform="matrix(0.7254 0 0 0.7680 655.59 551.80)" font-size="100" font-weight="bold" fill="#A5008B" >A</text>
<rect x="710.2" y="516.7" width="34.8" height="8.3" rx="2.6" fill="#000"/><rect x="710.2" y="532.7" width="34.8" height="8.2" rx="2.6" fill="#000"/>
<text transform="matrix(0.5425 0 0 0.5493 770.78 449.01)" font-size="100" font-weight="bold" fill="#A5008B" >31</text>
<text transform="matrix(0.8115 0 0 0.9314 797.55 543.27)" font-size="100" font-weight="bold" fill="#A5008B" >Ga</text>
<text transform="matrix(0.3200 0 0 0.3075 799.90 592.29)" font-size="100" font-weight="normal" fill="#A5008B" >Gallium</text>
<text transform="matrix(0.5524 0 0 0.5493 969.76 447.31)" font-size="100" font-weight="bold" fill="#A5008B" >32</text>
<text transform="matrix(0.8571 0 0 0.9286 994.57 542.07)" font-size="100" font-weight="bold" fill="#A5008B" >Ge</text>
<text transform="matrix(0.3215 0 0 0.2980 970.69 589.60)" font-size="100" font-weight="normal" fill="#A5008B" >Germanium</text>
<rect x="627.4" y="717.5" width="453.1" height="201.89999999999998" rx="33" ry="33" fill="none" stroke="#96C30A" stroke-width="7.3"/>
<path d="M624 817.8 C602 815 585 803 581 790 C579 784 580 780 578.5 775 C575 763 565 756 550 750.5" fill="none" stroke="#96C30A" stroke-width="6.4"/>
<polygon points="532.5,748.7 554.6,742.8 550.6,763.2" fill="#96C30A"/>
<rect x="761.8" y="682.9" width="185.6" height="205.8" fill="#fff" stroke="#000" stroke-width="4.6"/>
<rect x="960.9" y="683.9" width="184.7" height="205.3" fill="#fff" stroke="#000" stroke-width="4.6"/>
<text transform="matrix(0.6579 0 0 0.7578 653.54 846.30)" font-size="100" font-weight="bold" fill="#96C30A" >X</text>
<rect x="702" y="811.7" width="34.3" height="8.3" rx="2.6" fill="#000"/><rect x="702" y="827.7" width="34.3" height="8.3" rx="2.6" fill="#000"/>
<text transform="matrix(0.5720 0 0 0.5470 770.25 730.45)" font-size="100" font-weight="bold" fill="#A9CB52" >6</text>
<text transform="matrix(0.7481 0 0 0.9216 827.51 823.68)" font-size="100" font-weight="bold" fill="#A9CB52" >C</text>
<text transform="matrix(0.3100 0 0 0.3102 802.85 871.99)" font-size="100" font-weight="normal" fill="#A9CB52" >Carbon</text>
<text transform="matrix(0.5915 0 0 0.5411 968.49 731.20)" font-size="100" font-weight="bold" fill="#A9CB52" >7</text>
<text transform="matrix(0.9123 0 0 0.9178 1019.84 823.50)" font-size="100" font-weight="bold" fill="#A9CB52" >N</text>
<text transform="matrix(0.3301 0 0 0.2831 990.28 872.73)" font-size="100" font-weight="normal" fill="#A9CB52" >Nitrogen</text>
<rect x="1019.4" y="649.3" width="143.2" height="92.2" rx="21" ry="21" fill="#ACCE4B"/>
<text transform="matrix(0.2980 0 0 0.3252 1041.95 685.17)" font-size="100" font-weight="bold" fill="#000" >via</text>
<text transform="matrix(0.3323 0 0 0.3127 1094.95 685.20)" font-size="100" font-weight="bold" fill="#000" >VN</text>
<text transform="matrix(0.3291 0 0 0.3050 1035.48 729.39)" font-size="100" font-weight="bold" fill="#000" >or</text>
<text transform="matrix(0.2837 0 0 0.3237 1076.17 729.38)" font-size="100" font-weight="bold" fill="#000" >Cr</text>
<text transform="matrix(0.2176 0 0 0.2108 1109.74 737.80)" font-size="100" font-weight="bold" fill="#000" >2</text>
<text transform="matrix(0.3217 0 0 0.3215 1123.03 729.40)" font-size="100" font-weight="bold" fill="#000" >N</text>
</g>
<g id="crystal">
<line x1="267.4" y1="290" x2="267.4" y2="790" stroke="#B4B4B4" stroke-width="2.1"/><line x1="355" y1="290" x2="355" y2="790" stroke="#B4B4B4" stroke-width="2.1"/><line x1="378" y1="290" x2="378" y2="790" stroke="#B4B4B4" stroke-width="2.1"/><line x1="465.6" y1="290" x2="465.6" y2="790" stroke="#B4B4B4" stroke-width="2.1"/>
<polygon points="201.4,196.0 288.6,182.0 376.0,169.0 399.6,187.6 486.6,175.6 511.0,195.6 532.0,272.6 444.4,285.6 357.0,298.0 332.4,280.0 246.0,292.4 221.6,273.6" fill="#9CC534" fill-opacity="0.95" />
<polygon points="288.6,182.0 399.6,187.6 312.0,201.6" fill="#A8D03C" />
<polygon points="399.6,187.6 511.0,195.6 444.4,285.6 423.0,208.0" fill="#A3CB3E" />
<polygon points="511.0,195.6 444.4,285.6 532.0,272.6" fill="#97B94A" />
<polygon points="423.0,208.0 444.4,285.6 430.0,280.0" fill="#88AA3A" />
<polygon points="201.4,196.0 312.0,201.6 246.0,292.4" fill="#A5CC3C" />
<polygon points="312.0,201.6 246.0,292.4 332.4,280.0" fill="#94BB3A" />
<polygon points="221.6,273.6 246.0,292.4 332.4,280.0" fill="#84A83A" />
<polygon points="312.0,201.6 423.0,208.0 357.0,298.0" fill="#98C620" />
<polygon points="423.0,208.0 357.0,298.0 444.4,285.6" fill="#8EB82C" />
<polygon points="332.4,280.0 357.0,298.0 444.4,285.6" fill="#84AA36" fill-opacity="0.85" />
<polygon points="418.0,266.0 444.4,285.6 532.0,272.6" fill="#8AAA46" fill-opacity="0.8" />
<circle cx="221.6" cy="273.6" r="20" fill="url(#gO)"/>
<circle cx="332.4" cy="280.0" r="20" fill="url(#gO)"/>
<polygon points="312.0,201.6 246.0,292.4 332.4,280.0" fill="#94BB3A" fill-opacity="0.45" />
<polygon points="221.6,273.6 246.0,292.4 332.4,280.0" fill="#84A83A" fill-opacity="0.35" />
<polygon points="201.4,196.0 221.6,273.6 246.0,292.4" fill="#7A973C" fill-opacity="0.85" />
<polygon points="312.0,201.6 332.4,280.0 357.0,298.0" fill="#6B8B28" fill-opacity="0.85" />
<circle cx="288.6" cy="182.0" r="19.5" fill="url(#gOb)"/>
<circle cx="376.0" cy="169.0" r="19.5" fill="url(#gOb)"/>
<circle cx="399.6" cy="187.6" r="19.5" fill="url(#gOb)"/>
<circle cx="486.6" cy="175.6" r="19.5" fill="url(#gOb)"/>
<polygon points="201.4,196.0 288.6,182.0 312.0,201.6" fill="#546B31" fill-opacity="0.62" />
<polygon points="288.6,182.0 376.0,169.0 399.6,187.6" fill="#6D8E41" fill-opacity="0.62" />
<polygon points="312.0,201.6 399.6,187.6 423.0,208.0" fill="#5D7D27" fill-opacity="0.62" />
<polygon points="399.6,187.6 486.6,175.6 511.0,195.6" fill="#6D8E41" fill-opacity="0.62" />
<line x1="312.0" y1="201.6" x2="246.0" y2="292.4" stroke="#CBDCA4" stroke-width="0.9" stroke-opacity="0.75"/>
<line x1="423.0" y1="208.0" x2="357.0" y2="298.0" stroke="#CBDCA4" stroke-width="0.9" stroke-opacity="0.75"/>
<line x1="511.0" y1="195.6" x2="444.4" y2="285.6" stroke="#CBDCA4" stroke-width="0.9" stroke-opacity="0.75"/>
<line x1="312.0" y1="201.6" x2="357.0" y2="298.0" stroke="#CBDCA4" stroke-width="0.9" stroke-opacity="0.75"/>
<line x1="423.0" y1="208.0" x2="444.4" y2="285.6" stroke="#CBDCA4" stroke-width="0.9" stroke-opacity="0.75"/>
<line x1="201.4" y1="196.0" x2="246.0" y2="292.4" stroke="#CBDCA4" stroke-width="0.9" stroke-opacity="0.75"/>
<circle cx="306.0" cy="260.0" r="16" fill="url(#gOl)" opacity="0.6"/>
<circle cx="418.0" cy="266.0" r="16" fill="url(#gOl)" opacity="0.6"/>
<circle cx="355.0" cy="224.0" r="12" fill="url(#gOl)" opacity="0.4"/>
<line x1="267.4" y1="237.4" x2="267.4" y2="290" stroke="#8f9688" stroke-width="1.2" stroke-opacity="0.3"/>
<line x1="355" y1="200.0" x2="355" y2="290" stroke="#8f9688" stroke-width="1.2" stroke-opacity="0.3"/>
<line x1="378" y1="243.4" x2="378" y2="290" stroke="#8f9688" stroke-width="1.2" stroke-opacity="0.3"/>
<line x1="465.6" y1="231.0" x2="465.6" y2="290" stroke="#8f9688" stroke-width="1.2" stroke-opacity="0.3"/>
<circle cx="267.4" cy="237.4" r="11.2" fill="url(#gG)"/>
<circle cx="378.0" cy="243.4" r="11.2" fill="url(#gG)"/>
<circle cx="466.0" cy="231.0" r="11.2" fill="url(#gG)"/>
<circle cx="201.4" cy="196.0" r="20" fill="url(#gO)"/>
<circle cx="312.0" cy="201.6" r="20" fill="url(#gO)"/>
<circle cx="423.0" cy="208.0" r="20" fill="url(#gO)"/>
<circle cx="511.0" cy="195.6" r="20" fill="url(#gO)"/>
<circle cx="246.0" cy="292.4" r="20" fill="url(#gO)"/>
<circle cx="357.0" cy="298.0" r="20" fill="url(#gO)"/>
<circle cx="444.4" cy="285.6" r="20" fill="url(#gO)"/>
<circle cx="532.0" cy="272.6" r="20" fill="url(#gO)"/>
<circle cx="399.5" cy="361" r="24.5" fill="url(#gP)"/>
<polygon points="201.4,539.0 222.4,440.4 333.0,446.0 310.0,427.0 421.0,433.0 532.0,440.0 510.6,539.0 426.8,533.8 423.0,551.6 312.0,545.6" fill="#9CC534" fill-opacity="0.95" />
<polygon points="333.0,446.0 421.0,433.0 444.4,453.0" fill="#A4CC3C" />
<polygon points="444.4,453.0 532.0,440.0 510.6,539.0 426.8,533.8" fill="#A1C942" />
<polygon points="532.0,440.0 510.6,539.0 487.0,518.0" fill="#93B44C" />
<polygon points="222.4,440.4 246.0,459.4 201.4,539.0" fill="#84A43E" />
<polygon points="246.0,459.4 201.4,539.0 312.0,545.6" fill="#A0C73A" />
<polygon points="246.0,459.4 333.0,446.0 312.0,545.6" fill="#9AC236" />
<polygon points="300.0,454.4 328.0,464.0 317.0,528.0 294.0,538.0" fill="#8DB52A" fill-opacity="0.9" />
<polygon points="201.4,539.0 312.0,545.6 294.0,537.0 220.0,534.4" fill="#90B53C" fill-opacity="0.7" />
<polygon points="357.0,466.0 312.0,545.6 423.0,551.6" fill="#95C21E" />
<polygon points="357.0,466.0 444.4,453.0 423.0,551.6" fill="#93BF22" />
<polygon points="410.0,476.0 440.0,470.0 428.0,528.0 408.0,530.0" fill="#86AC28" fill-opacity="0.9" />
<polygon points="333.0,446.0 357.0,466.0 312.0,545.6" fill="#78992A" />
<polygon points="312.0,545.6 423.0,551.6 408.0,539.0 330.0,534.4" fill="#8AB030" fill-opacity="0.7" />
<polygon points="444.4,453.0 423.0,551.6 426.8,533.8" fill="#86AC2A" />
<circle cx="222.4" cy="440.4" r="19.5" fill="url(#gOb)"/>
<circle cx="421.0" cy="433.0" r="19.5" fill="url(#gOb)"/>
<polygon points="222.4,440.4 246.0,459.4 201.4,539.0" fill="#84A43E" fill-opacity="0.8" />
<polygon points="222.4,440.4 333.0,446.0 246.0,459.4" fill="#7B9C38" fill-opacity="0.9" />
<polygon points="310.0,427.0 421.0,433.0 333.0,446.0" fill="#82A440" fill-opacity="0.85" />
<circle cx="310.0" cy="427.0" r="19.5" fill="url(#gOb)"/>
<polygon points="333.0,446.0 444.4,453.0 357.0,466.0" fill="#74962A" fill-opacity="0.92" />
<polygon points="421.0,433.0 532.0,440.0 444.4,453.0" fill="#80A23E" fill-opacity="0.88" />
<line x1="246.0" y1="459.4" x2="312.0" y2="545.6" stroke="#CFDDAE" stroke-width="0.9" stroke-opacity="0.75"/>
<line x1="357.0" y1="466.0" x2="423.0" y2="551.6" stroke="#CFDDAE" stroke-width="0.9" stroke-opacity="0.75"/>
<line x1="444.4" y1="453.0" x2="487.0" y2="518.0" stroke="#CFDDAE" stroke-width="0.9" stroke-opacity="0.75"/>
<line x1="333.0" y1="446.0" x2="312.0" y2="545.6" stroke="#CFDDAE" stroke-width="0.9" stroke-opacity="0.75"/>
<line x1="444.4" y1="453.0" x2="423.0" y2="551.6" stroke="#CFDDAE" stroke-width="0.9" stroke-opacity="0.75"/>
<line x1="246.0" y1="459.4" x2="201.4" y2="539.0" stroke="#CFDDAE" stroke-width="0.9" stroke-opacity="0.75"/>
<circle cx="288.0" cy="523.0" r="20" fill="url(#gOl)" opacity="0.62"/>
<circle cx="398.0" cy="532.0" r="20" fill="url(#gOl)" opacity="0.62"/>
<circle cx="487.0" cy="518.0" r="19" fill="url(#gOl)" opacity="0.62"/>
<line x1="267.4" y1="432" x2="267.4" y2="548" stroke="#7f8678" stroke-width="1.5" stroke-opacity="0.45"/>
<line x1="355" y1="432" x2="355" y2="548" stroke="#7f8678" stroke-width="1.5" stroke-opacity="0.45"/>
<line x1="378" y1="432" x2="378" y2="548" stroke="#7f8678" stroke-width="1.5" stroke-opacity="0.45"/>
<line x1="465.6" y1="432" x2="465.6" y2="548" stroke="#7f8678" stroke-width="1.5" stroke-opacity="0.45"/>
<circle cx="267.4" cy="493.4" r="11.2" fill="url(#gG)" opacity="0.92"/>
<circle cx="378.0" cy="499.0" r="11.2" fill="url(#gG)" opacity="0.92"/>
<circle cx="465.6" cy="486.4" r="11.2" fill="url(#gG)" opacity="0.92"/>
<circle cx="333.0" cy="446.0" r="19.5" fill="url(#gO)"/>
<circle cx="246.0" cy="459.4" r="20" fill="url(#gO)"/>
<circle cx="357.0" cy="466.0" r="20" fill="url(#gO)"/>
<circle cx="444.4" cy="453.0" r="20" fill="url(#gO)"/>
<circle cx="532.0" cy="440.0" r="20" fill="url(#gO)"/>
<circle cx="201.4" cy="539.0" r="20" fill="url(#gO)"/>
<circle cx="312.0" cy="545.6" r="20" fill="url(#gO)"/>
<circle cx="423.0" cy="551.6" r="20" fill="url(#gO)"/>
<circle cx="510.6" cy="539.0" r="20" fill="url(#gO)"/>
<circle cx="333.5" cy="618.8" r="24.5" fill="url(#gP)"/>
<polygon points="201.4,706.6 288.6,692.6 376.0,679.6 399.6,698.2 486.6,686.2 511.0,706.2 532.0,783.2 444.4,796.2 357.0,808.6 332.4,790.6 246.0,803.0 221.6,784.2" fill="#9CC534" fill-opacity="0.95" />
<polygon points="288.6,692.6 399.6,698.2 312.0,712.2" fill="#A8D03C" />
<polygon points="399.6,698.2 511.0,706.2 444.4,796.2 423.0,718.6" fill="#A3CB3E" />
<polygon points="511.0,706.2 444.4,796.2 532.0,783.2" fill="#97B94A" />
<polygon points="423.0,718.6 444.4,796.2 430.0,790.6" fill="#88AA3A" />
<polygon points="201.4,706.6 312.0,712.2 246.0,803.0" fill="#A5CC3C" />
<polygon points="312.0,712.2 246.0,803.0 332.4,790.6" fill="#94BB3A" />
<polygon points="221.6,784.2 246.0,803.0 332.4,790.6" fill="#84A83A" />
<polygon points="312.0,712.2 423.0,718.6 357.0,808.6" fill="#98C620" />
<polygon points="423.0,718.6 357.0,808.6 444.4,796.2" fill="#8EB82C" />
<polygon points="332.4,790.6 357.0,808.6 444.4,796.2" fill="#84AA36" fill-opacity="0.85" />
<polygon points="418.0,776.6 444.4,796.2 532.0,783.2" fill="#8AAA46" fill-opacity="0.8" />
<circle cx="221.6" cy="784.2" r="20" fill="url(#gO)"/>
<circle cx="332.4" cy="790.6" r="20" fill="url(#gO)"/>
<polygon points="312.0,712.2 246.0,803.0 332.4,790.6" fill="#94BB3A" fill-opacity="0.45" />
<polygon points="221.6,784.2 246.0,803.0 332.4,790.6" fill="#84A83A" fill-opacity="0.35" />
<polygon points="201.4,706.6 221.6,784.2 246.0,803.0" fill="#7A973C" fill-opacity="0.85" />
<polygon points="312.0,712.2 332.4,790.6 357.0,808.6" fill="#6B8B28" fill-opacity="0.85" />
<circle cx="288.6" cy="692.6" r="19.5" fill="url(#gOb)"/>
<circle cx="376.0" cy="679.6" r="19.5" fill="url(#gOb)"/>
<circle cx="399.6" cy="698.2" r="19.5" fill="url(#gOb)"/>
<circle cx="486.6" cy="686.2" r="19.5" fill="url(#gOb)"/>
<polygon points="201.4,706.6 288.6,692.6 312.0,712.2" fill="#546B31" fill-opacity="0.62" />
<polygon points="288.6,692.6 376.0,679.6 399.6,698.2" fill="#6D8E41" fill-opacity="0.62" />
<polygon points="312.0,712.2 399.6,698.2 423.0,718.6" fill="#5D7D27" fill-opacity="0.62" />
<polygon points="399.6,698.2 486.6,686.2 511.0,706.2" fill="#6D8E41" fill-opacity="0.62" />
<line x1="312.0" y1="712.2" x2="246.0" y2="803.0" stroke="#CBDCA4" stroke-width="0.9" stroke-opacity="0.75"/>
<line x1="423.0" y1="718.6" x2="357.0" y2="808.6" stroke="#CBDCA4" stroke-width="0.9" stroke-opacity="0.75"/>
<line x1="511.0" y1="706.2" x2="444.4" y2="796.2" stroke="#CBDCA4" stroke-width="0.9" stroke-opacity="0.75"/>
<line x1="312.0" y1="712.2" x2="357.0" y2="808.6" stroke="#CBDCA4" stroke-width="0.9" stroke-opacity="0.75"/>
<line x1="423.0" y1="718.6" x2="444.4" y2="796.2" stroke="#CBDCA4" stroke-width="0.9" stroke-opacity="0.75"/>
<line x1="201.4" y1="706.6" x2="246.0" y2="803.0" stroke="#CBDCA4" stroke-width="0.9" stroke-opacity="0.75"/>
<circle cx="306.0" cy="770.6" r="16" fill="url(#gOl)" opacity="0.6"/>
<circle cx="418.0" cy="776.6" r="16" fill="url(#gOl)" opacity="0.6"/>
<circle cx="355.0" cy="734.6" r="12" fill="url(#gOl)" opacity="0.4"/>
<line x1="267.4" y1="678.6" x2="267.4" y2="748.0" stroke="#8f9688" stroke-width="1.6" stroke-opacity="0.7"/>
<line x1="355" y1="678.6" x2="355" y2="710.6" stroke="#8f9688" stroke-width="1.6" stroke-opacity="0.7"/>
<line x1="378" y1="678.6" x2="378" y2="754.0" stroke="#8f9688" stroke-width="1.6" stroke-opacity="0.7"/>
<line x1="465.6" y1="678.6" x2="465.6" y2="741.6" stroke="#8f9688" stroke-width="1.6" stroke-opacity="0.7"/>
<circle cx="267.4" cy="748.0" r="11.2" fill="url(#gG)"/>
<circle cx="378.0" cy="754.0" r="11.2" fill="url(#gG)"/>
<circle cx="466.0" cy="741.6" r="11.2" fill="url(#gG)"/>
<circle cx="201.4" cy="706.6" r="20" fill="url(#gO)"/>
<circle cx="312.0" cy="712.2" r="20" fill="url(#gO)"/>
<circle cx="423.0" cy="718.6" r="20" fill="url(#gO)"/>
<circle cx="511.0" cy="706.2" r="20" fill="url(#gO)"/>
<circle cx="246.0" cy="803.0" r="20" fill="url(#gO)"/>
<circle cx="357.0" cy="808.6" r="20" fill="url(#gO)"/>
<circle cx="444.4" cy="796.2" r="20" fill="url(#gO)"/>
<circle cx="532.0" cy="783.2" r="20" fill="url(#gO)"/>
</g>
<rect x="172.5" y="75.75" width="1655" height="895" fill="none" stroke="#111" stroke-width="2"/>
</svg></body></html>
